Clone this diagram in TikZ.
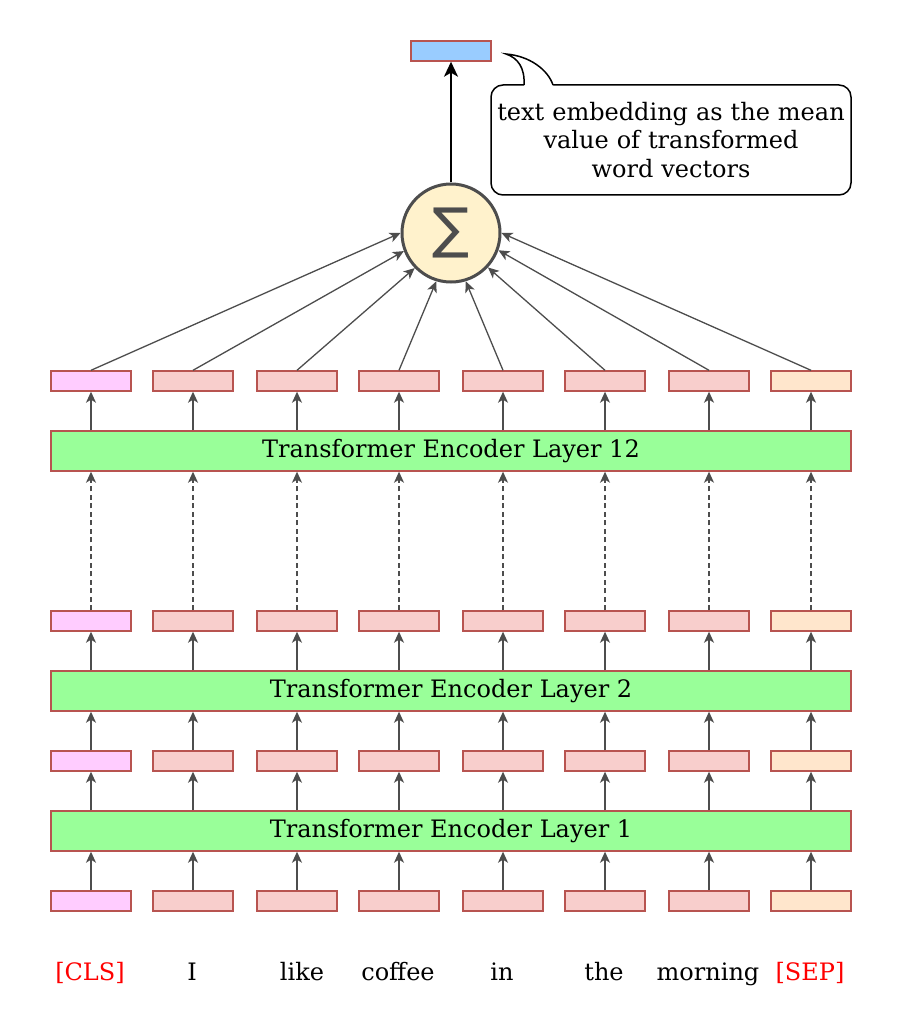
\documentclass[tikz,border=0pt]{standalone}
\usepackage{fontspec}
\setmainfont{DejaVu Serif}
\newfontfamily\sigmafont{DejaVu Sans}
\usetikzlibrary{arrows.meta}
\definecolor{boxborder}{HTML}{B85450}
\definecolor{tokfill}{HTML}{F8CECC}
\definecolor{clsfill}{HTML}{FFCCFF}
\definecolor{sepfill}{HTML}{FFE6CC}
\definecolor{layerfill}{HTML}{99FF99}
\definecolor{outfill}{HTML}{99CCFF}
\definecolor{sumfill}{HTML}{FFF2CC}
\definecolor{linegray}{HTML}{4D4D4D}
\definecolor{tokred}{HTML}{FF0000}
\tikzset{
  sbox/.style={draw=boxborder, line width=1.4pt, minimum width=80pt, minimum height=20pt, inner sep=0pt},
  layerbox/.style={draw=boxborder, line width=1.4pt, fill=layerfill, minimum width=800pt, minimum height=40pt, inner sep=0pt},
  garr/.style={draw=linegray, line width=1.3pt, -{Stealth[length=11pt, width=10pt, inset=3pt]}},
  barr/.style={draw=black, line width=2pt, -{Stealth[length=15pt, width=14pt, inset=4pt]}},
  sumnode/.style={circle, draw=linegray, line width=3pt, fill=sumfill, minimum size=98pt, inner sep=0pt},
  callout/.style={draw=black, line width=1.5pt, rounded corners=12pt, minimum width=360pt, minimum height=110pt, text width=350pt, align=center, inner sep=0pt},
  tokfont/.style={anchor=base},
}
\begin{document}
\begin{tikzpicture}[x=1pt, y=-1pt, font=\fontsize{24}{28.5}\selectfont]
\useasboundingbox (0,0) rectangle (900,1032);
% layers
\node[layerbox] (L1) at (451,831) {Transformer Encoder Layer 1};
\node[layerbox] (L2) at (451,691) {Transformer Encoder Layer 2};
\node[layerbox] (L12) at (451,451) {Transformer Encoder Layer 12};
% sum and output
\node[sumnode] (sum) at (451,233) {};
\node[text=linegray, inner sep=0pt] (sigma) at (sum.center) {\sigmafont\fontsize{55}{55}\selectfont ∑};
\node[sbox, fill=outfill] (out) at (451,51) {};
\draw[barr] (sum.north) -- (out.south);
% columns
\foreach \x/\ang [count=\i] in {91/180,193/201,297/224,399/253,503/287,605/317,709/340,811/0} {
  \ifnum\i=1 \def\fc{clsfill}\else\ifnum\i=8 \def\fc{sepfill}\else\def\fc{tokfill}\fi\fi
  \node[sbox, fill=\fc] (a\i) at (\x,901) {};
  \node[sbox, fill=\fc] (b\i) at (\x,761) {};
  \node[sbox, fill=\fc] (c\i) at (\x,621) {};
  \node[sbox, fill=\fc] (d\i) at (\x,381) {};
  \draw[garr] (a\i.north) -- (a\i.north |- L1.south);
  \draw[garr] (L1.north -| b\i.south) -- (b\i.south);
  \draw[garr] (b\i.north) -- (b\i.north |- L2.south);
  \draw[garr] (L2.north -| c\i.south) -- (c\i.south);
  \draw[garr, dash pattern=on 5pt off 3.5pt] (c\i.north) -- (c\i.north |- L12.south);
  \draw[garr] (L12.north -| d\i.south) -- (d\i.south);
  \draw[garr] (d\i.north) -- (sum.\ang);
}
% token labels
\node[tokfont, text=tokred] (t1) at (90,980) {[CLS]};
\node[tokfont] (t2) at (192,980) {I};
\node[tokfont] (t3) at (302,980) {like};
\node[tokfont] (t4) at (398,980) {coffee};
\node[tokfont] (t5) at (502,980) {in};
\node[tokfont] (t6) at (604,980) {the};
\node[tokfont] (t7) at (708,980) {morning};
\node[tokfont, text=tokred] (t8) at (810,980) {[SEP]};
% callout
\node[callout] (note) at (671,140) {text embedding as the mean\\value of transformed\\word vectors};
\fill[white] (524,86.5) -- (524,85) .. controls (525,68) and (518,58) .. (506,54) .. controls (530,56) and (548,70) .. (553,85) -- (553,86.5) -- cycle;
\draw[black, line width=1.5pt] (524,85) .. controls (525,68) and (518,58) .. (506,54) .. controls (530,56) and (548,70) .. (553,85);
\end{tikzpicture}
\end{document}
